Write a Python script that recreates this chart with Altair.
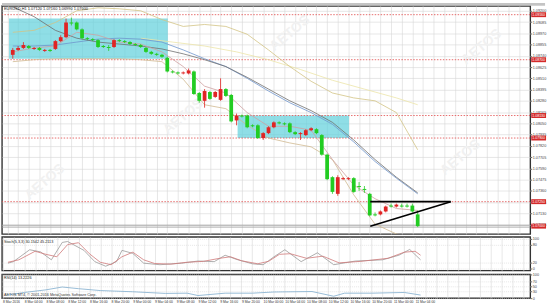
import altair as alt
import pandas as pd

# ---------------- data ----------------
candle_idx = list(range(77))
opens = [1.0875,1.0880,1.0882,1.0884,1.0881,1.0882,1.0879,1.0880,1.0881,1.0889,
         1.0893,1.0908,1.0908,1.0901,1.0892,1.0891,1.0890,1.0884,1.0883,1.0883,
         1.0890,1.0889,1.0888,1.0886,1.0885,1.0882,1.0878,1.0876,1.0875,1.0872,
         1.0858,1.0857,1.0856,1.0856,1.0858,1.0836,1.0828,1.0837,1.0832,1.0829,
         1.0840,1.0834,1.0808,1.0813,1.0813,1.0803,1.0803,1.0790,1.0795,1.0801,
         1.0806,1.0805,1.0805,1.0796,1.0794,1.0793,1.0798,1.0799,1.0793,1.0773,
         1.0750,1.0733,1.0748,1.0748,1.0749,1.0741,1.0738,1.0733,1.0712,1.0712,
         1.0715,1.0721,1.0720,1.0721,1.0721,1.0721,1.0712]
closes = [1.0880,1.0882,1.0885,1.0882,1.0882,1.0880,1.0880,1.0879,1.0889,1.0893,
          1.0908,1.0907,1.0901,1.0892,1.0891,1.0890,1.0883,1.0883,1.0882,1.0890,
          1.0889,1.0888,1.0886,1.0885,1.0883,1.0878,1.0876,1.0875,1.0873,1.0858,
          1.0857,1.0856,1.0857,1.0859,1.0835,1.0828,1.0838,1.0830,1.0837,1.0840,
          1.0833,1.0807,1.0813,1.0812,1.0801,1.0802,1.0790,1.0795,1.0801,1.0806,
          1.0805,1.0804,1.0796,1.0794,1.0795,1.0798,1.0800,1.0795,1.0773,1.0748,
          1.0735,1.0750,1.0749,1.0749,1.0735,1.0740,1.0737,1.0711,1.0711,1.0715,
          1.0720,1.0720,1.0722,1.0720,1.0720,1.0715,1.0700]
highs = [1.0882,1.0884,1.0888,1.0885,1.0883,1.0883,1.0881,1.0881,1.0890,1.0895,
         1.0912,1.0913,1.0909,1.0902,1.0893,1.0892,1.0891,1.0885,1.0885,1.0891,
         1.0891,1.0890,1.0889,1.0887,1.0886,1.0883,1.0879,1.0877,1.0876,1.0873,
         1.0859,1.0858,1.0858,1.0861,1.0859,1.0837,1.0840,1.0838,1.0838,1.0851,
         1.0841,1.0835,1.0815,1.0814,1.0814,1.0804,1.0804,1.0796,1.0802,1.0807,
         1.0807,1.0806,1.0806,1.0797,1.0796,1.0799,1.0801,1.0800,1.0794,1.0774,
         1.0751,1.0752,1.0750,1.0750,1.0750,1.0745,1.0741,1.0734,1.0714,1.0716,
         1.0721,1.0723,1.0723,1.0723,1.0723,1.0723,1.0716]
lows = [1.0871,1.0879,1.0881,1.0881,1.0880,1.0879,1.0878,1.0878,1.0880,1.0888,
        1.0892,1.0905,1.0900,1.0891,1.0890,1.0889,1.0882,1.0882,1.0879,1.0882,
        1.0888,1.0887,1.0885,1.0884,1.0882,1.0877,1.0875,1.0874,1.0872,1.0857,
        1.0856,1.0855,1.0855,1.0855,1.0834,1.0826,1.0821,1.0829,1.0831,1.0828,
        1.0832,1.0806,1.0803,1.0811,1.0800,1.0801,1.0789,1.0788,1.0794,1.0800,
        1.0804,1.0803,1.0795,1.0793,1.0788,1.0792,1.0797,1.0794,1.0772,1.0747,
        1.0733,1.0731,1.0747,1.0747,1.0734,1.0736,1.0734,1.0710,1.0710,1.0711,
        1.0714,1.0719,1.0719,1.0719,1.0719,1.0714,1.0699]

ma_idx = [0,4,8,12,16,20,24,28,32,36,40,44,48,52,56,60,64,68,72,76]
ma_slow = [1.0924,1.0914,1.0900,1.0892,1.0888,1.0886,1.0884,1.0881,1.0876,1.0870,
           1.0863,1.0852,1.0840,1.0828,1.0818,1.0806,1.0788,1.0768,1.0750,1.0734]
ma_blue = [1.0884,1.0884,1.0885,1.0888,1.0891,1.0892,1.0891,1.0888,1.0880,1.0871,
           1.0863,1.0851,1.0838,1.0826,1.0816,1.0804,1.0786,1.0766,1.0749,1.0733]
ma_fast = [1.0878,1.0882,1.0884,1.0898,1.0895,1.0888,1.0886,1.0878,1.0863,1.0843,
           1.0836,1.0816,1.0802,1.0802,1.0798,1.0768,1.0742,1.0728,1.0718,1.0716]
bb_upper = [1.0898,1.0900,1.0908,1.0920,1.0923,1.0922,1.0920,1.0911,1.0904,1.0906,
            1.0904,1.0896,1.0880,1.0863,1.0848,1.0836,1.0831,1.0828,1.0816,1.0778]
bb_lower = [1.0868,1.0870,1.0871,1.0871,1.0871,1.0871,1.0870,1.0868,1.0850,1.0824,
            1.0820,1.0803,1.0790,1.0785,1.0781,1.0768,1.0732,1.0702,1.0692,1.0688]
long_idx = [24,30,36,42,48,54,60,66,72,76]
ma_long = [1.0892,1.0888,1.0884,1.0878,1.0870,1.0860,1.0849,1.0840,1.0831,1.0824]

box_x1 = [-0.7, 42.2]
box_x2 = [29.1, 63.1]
box_top = [1.0912, 1.0813]
box_bottom = [1.0871, 1.0790]

red_levels = [1.0916, 1.0870, 1.0813, 1.0790, 1.0725]
bid_levels = [1.0701, 1.0699]
axis_marks = [1.0916, 1.0870, 1.0813, 1.0790, 1.0725, 1.0700]

tri_idx = [67.1, 82.2, 67.1, 82.2]
tri_price = [1.0725, 1.0725, 1.0700, 1.0725]
tri_seg = ["top", "top", "bottom", "bottom"]

price_ticks = [1.09200,1.09085,1.08970,1.08855,1.08740,1.08625,1.08510,1.08395,1.08280,1.08165,
               1.08050,1.07935,1.07820,1.07705,1.07590,1.07475,1.07360,1.07245,1.07130,1.07015]

stoch_main_idx = [0,1,4,6,8,10,11,14,16,18,20,21,23,25,28,32,35,38,40,42,45,47,49,51,54,57,60,64,69,72,74,76]
stoch_main = [19,24,63,56,30,87,90,61,24,9,24,61,51,19,14,19,26,24,45,32,17,14,40,63,24,53,14,26,30,45,64,30]
stoch_sig_idx = [0,2,5,7,9,11,13,15,17,19,21,23,25,27,30,33,36,39,41,43,46,48,50,52,55,58,61,65,70,73,75,76]
stoch_sig = [22,30,58,48,40,80,86,50,22,14,40,55,30,18,16,22,25,35,40,27,17,25,48,50,35,42,20,25,35,55,58,45]

rsi_idx = [0,3,7,10,13,17,23,29,33,35,40,45,49,56,60,62,67,73,76]
rsi_vals = [13,24,35,47,40,32,27,20,21,11,21,21,26,28,8,21,21,24,13]

time_labels = ["8 Mar 2016","8 Mar 04:00","8 Mar 08:00","8 Mar 12:00","8 Mar 16:00",
               "8 Mar 20:00","9 Mar 00:00","9 Mar 04:00","9 Mar 08:00","9 Mar 12:00",
               "9 Mar 16:00","9 Mar 20:00","10 Mar 00:00","10 Mar 04:00","10 Mar 08:00",
               "10 Mar 12:00","10 Mar 16:00","10 Mar 20:00","11 Mar 00:00","11 Mar 04:00"]

wm_idx = [6, 32, 52, 88, 84]
wm_price = [1.0745, 1.0812, 1.0897, 1.0883, 1.0770]

header = "EURUSD,H1  1.07120 1.07160 1.06990 1.07000"
stoch_text = "Stoch(5,3,3) 30.1542 45.2113"
rsi_text = "RSI(14) 13.2226"
copyright_text = "AETOS MT4, \u00a9 2001-2016 MetaQuotes Software Corp."

# ---------------- helpers ----------------
X_DOMAIN = [-1.1, 96.2]
P_DOMAIN = [1.0692, 1.0925]
W = 535
GRID = "#d6d6d6"
FONT = "Liberation Sans"
grid_vals = list(range(-1, 97, 2))
label_expr = ("(datum.value + 1) % 4 == 0 && datum.value <= 75 ? ["
              + ",".join("'%s'" % t for t in time_labels)
              + "][(datum.value + 1) / 4] : ''")


def xch(field="idx", labels=False):
    ax = dict(values=grid_vals, grid=True, gridColor=GRID, gridWidth=0.6,
              domain=False, ticks=False, labels=labels, title=None)
    if labels:
        ax.update(labelExpr=label_expr, labelAlign="left", labelFontSize=3.4,
                  labelColor="#333", labelPadding=1, labelFlush=False,
                  labelOverlap=False, labelBound=False, labelFont=FONT)
    return alt.X(f"{field}:Q", scale=alt.Scale(domain=X_DOMAIN, nice=False, zero=False),
                 axis=alt.Axis(**ax))


def ych(field, domain, values, fmt, dash=None):
    ax = dict(orient="right", values=values, format=fmt, grid=True, gridColor=GRID,
              gridWidth=0.6, domain=False, ticks=True, tickSize=1.5, tickColor="#666",
              labelFontSize=3.8, labelPadding=0.5, labelColor="#444", title=None,
              labelOverlap=False, labelFont=FONT)
    if dash:
        ax["gridDash"] = dash
    return alt.Y(f"{field}:Q", scale=alt.Scale(domain=domain, nice=False, zero=False),
                 axis=alt.Axis(**ax))


def yp(field):
    return ych(field, P_DOMAIN, price_ticks, ".5f")


# ---------------- price panel ----------------
df_c = pd.DataFrame({"idx": candle_idx, "open": opens, "close": closes,
                     "high": highs, "low": lows})
df_up = df_c[df_c["close"] > df_c["open"]]
df_dn = df_c[df_c["close"] <= df_c["open"]]

layers = []
layers.append(alt.Chart(pd.DataFrame({"a": [1]})).mark_rect(color="#c4c4c4").encode(
    x=alt.value(0), x2=alt.value(550), y=alt.value(-3), y2=alt.value(0)))

df_box = pd.DataFrame({"x1": box_x1, "x2": box_x2, "p1": box_top, "p2": box_bottom})
layers.append(alt.Chart(df_box).mark_rect(color="#5fd0dc", opacity=0.7).encode(
    x=xch("x1"), x2="x2:Q", y=yp("p1"), y2="p2:Q"))

df_wm = pd.DataFrame({"idx": wm_idx, "price": wm_price, "t": ["AETOS"] * len(wm_idx)})
layers.append(alt.Chart(df_wm).mark_text(fontSize=14, fontWeight="bold", angle=320,
                                         color="#f1f1f1", font=FONT).encode(
    x=xch(), y=yp("price"), text="t:N"))

df_lv = pd.DataFrame({"price": red_levels})
layers.append(alt.Chart(df_lv).mark_rule(color="#e04848", strokeWidth=0.8,
                                         strokeDash=[1.5, 1.5]).encode(y=yp("price")))
df_bid = pd.DataFrame({"price": bid_levels})
layers.append(alt.Chart(df_bid).mark_rule(color="#9a9a9a", strokeWidth=0.8).encode(y=yp("price")))

series = [(long_idx, ma_long, "#ece4a8"),
          (ma_idx, bb_upper, "#d2c384"),
          (ma_idx, bb_lower, "#d0b990"),
          (ma_idx, ma_blue, "#6f95cc"),
          (ma_idx, ma_slow, "#6e6e6e"),
          (ma_idx, ma_fast, "#cfa0a0")]
for ix, vals, col in series:
    d = pd.DataFrame({"idx": ix, "price": vals})
    layers.append(alt.Chart(d).mark_line(color=col, strokeWidth=0.8, clip=True).encode(
        x=xch(), y=yp("price")))

for d, col in [(df_up, "#e02424"), (df_dn, "#22cc22")]:
    layers.append(alt.Chart(d).mark_rule(color=col, strokeWidth=0.8).encode(
        x=xch(), y=yp("low"), y2="high:Q"))
    layers.append(alt.Chart(d).mark_bar(color=col, size=3.8).encode(
        x=xch(), y=yp("open"), y2="close:Q"))

df_tri = pd.DataFrame({"idx": tri_idx, "price": tri_price, "seg": tri_seg})
layers.append(alt.Chart(df_tri).mark_line(color="black", strokeWidth=1.6).encode(
    x=xch(), y=yp("price"), detail="seg:N"))

layers.append(alt.Chart(pd.DataFrame({"t": [header]})).mark_text(
    align="left", baseline="top", fontSize=4, color="#222", font=FONT).encode(
    x=alt.value(2), y=alt.value(1), text="t:N"))

df_am = pd.DataFrame({"price": axis_marks})
layers.append(alt.Chart(df_am).mark_rule(color="#d42a2a", strokeWidth=5).encode(
    x=alt.value(536), x2=alt.value(551), y=yp("price")))
layers.append(alt.Chart(df_am).mark_text(align="left", baseline="middle", fontSize=3.6,
                                         color="white", font=FONT).encode(
    x=alt.value(537), y=yp("price"), text=alt.Text("price:Q", format=".5f")))

price_panel = alt.layer(*layers).properties(width=W, height=231)

# ---------------- stochastic panel ----------------
S_DOMAIN = [-5, 105]
s_layers = []
for ix, vals, col in [(stoch_main_idx, stoch_main, "#9a9a9a"),
                      (stoch_sig_idx, stoch_sig, "#d07878")]:
    d = pd.DataFrame({"idx": ix, "v": vals})
    s_layers.append(alt.Chart(d).mark_line(color=col, strokeWidth=0.8).encode(
        x=xch(), y=ych("v", S_DOMAIN, [0, 20, 80, 100], "d", dash=[1, 1])))
s_layers.append(alt.Chart(pd.DataFrame({"t": [stoch_text]})).mark_text(
    align="left", baseline="top", fontSize=3.8, color="#222", font=FONT).encode(
    x=alt.value(2), y=alt.value(3), text="t:N"))
stoch_panel = alt.layer(*s_layers).properties(width=W, height=34)

# ---------------- RSI panel ----------------
r_layers = []
d = pd.DataFrame({"idx": rsi_idx, "v": rsi_vals})
r_layers.append(alt.Chart(d).mark_line(color="#8cb4d2", strokeWidth=0.9).encode(
    x=xch(labels=True), y=ych("v", [0, 100], [0, 30, 50, 70, 100], "d", dash=[1, 1])))
r_layers.append(alt.Chart(pd.DataFrame({"t": [rsi_text]})).mark_text(
    align="left", baseline="top", fontSize=3.8, color="#222", font=FONT).encode(
    x=alt.value(2), y=alt.value(2), text="t:N"))
r_layers.append(alt.Chart(pd.DataFrame({"t": [copyright_text]})).mark_text(
    align="left", baseline="middle", fontSize=3.8, color="#333", font=FONT).encode(
    x=alt.value(2), y=alt.value(20.5), text="t:N"))
rsi_panel = alt.layer(*r_layers).properties(width=W, height=24)

chart = alt.vconcat(price_panel, stoch_panel, rsi_panel, spacing=0).properties(
    padding={"left": 0, "top": 0, "right": 0, "bottom": 0}, background="white"
).configure_view(stroke="#333", strokeWidth=1.4).configure_text(font=FONT)

chart.save("out.html", embed_options={"renderer": "svg", "actions": False})
